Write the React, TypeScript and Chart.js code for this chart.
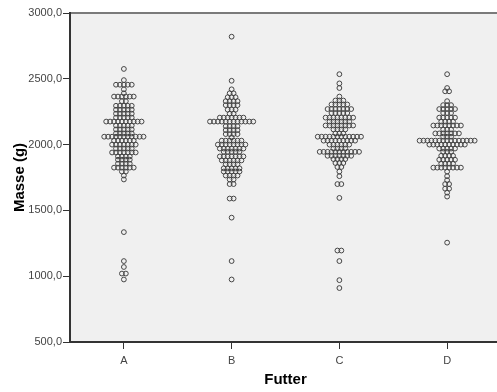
import React, { useEffect, useRef } from 'react';
import { Chart, registerables } from 'chart.js';

Chart.register(...registerables);

const categories = ['A', 'B', 'C', 'D'];
const yTickValues = [500, 1000, 1500, 2000, 2500, 3000];

// Dot-plot rows per category: bin mass (g) and number of dots in that row
const massA = [2575, 2490, 2455, 2420, 2390, 2365, 2330, 2295, 2265, 2235, 2205, 2175, 2145, 2115, 2085, 2060, 2030, 2000, 1970, 1940, 1910, 1885, 1855, 1825, 1795, 1765, 1735, 1335, 1115, 1070, 1020, 975];
const countA = [1, 1, 5, 1, 1, 6, 2, 5, 5, 5, 5, 10, 5, 5, 5, 11, 6, 7, 5, 7, 4, 4, 4, 6, 2, 1, 1, 1, 1, 1, 2, 1];

const massB = [2820, 2485, 2420, 2390, 2360, 2330, 2300, 2265, 2235, 2205, 2175, 2140, 2110, 2080, 2055, 2030, 2000, 1970, 1945, 1910, 1880, 1850, 1820, 1795, 1765, 1735, 1700, 1590, 1445, 1115, 975];
const countB = [1, 1, 1, 2, 3, 4, 4, 3, 2, 7, 12, 4, 4, 4, 1, 6, 8, 7, 5, 7, 6, 4, 5, 5, 4, 2, 2, 2, 1, 1, 1];

const massC = [2535, 2465, 2430, 2365, 2335, 2305, 2270, 2240, 2205, 2175, 2145, 2115, 2085, 2060, 2030, 2000, 1970, 1945, 1915, 1890, 1860, 1830, 1795, 1760, 1700, 1595, 1195, 1115, 970, 910];
const countC = [1, 1, 1, 1, 3, 5, 7, 5, 8, 6, 8, 4, 3, 12, 9, 6, 4, 11, 7, 4, 3, 2, 1, 1, 2, 1, 2, 1, 1, 1];

const massD = [2535, 2430, 2405, 2330, 2300, 2270, 2240, 2205, 2175, 2145, 2115, 2085, 2060, 2030, 2000, 1970, 1945, 1915, 1885, 1855, 1825, 1795, 1760, 1730, 1700, 1665, 1635, 1605, 1255];
const countD = [1, 1, 2, 1, 3, 5, 3, 5, 4, 8, 3, 7, 3, 15, 10, 5, 3, 4, 5, 4, 8, 1, 1, 1, 2, 2, 1, 1, 1];

const groups = [
  { masses: massA, counts: countA },
  { masses: massB, counts: countB },
  { masses: massC, counts: countC },
  { masses: massD, counts: countD },
];

function buildPoints(ci: number, masses: number[], counts: number[]) {
  const dx = 0.0365;
  const pts: { x: number; y: number }[] = [];
  masses.forEach((m, r) => {
    const n = counts[r];
    for (let i = 0; i < n; i++) pts.push({ x: ci + (i - (n - 1) / 2) * dx, y: m });
  });
  return pts;
}

const font = 'Liberation Sans, Arial, sans-serif';

const bgPlugin = {
  id: 'plotBg',
  beforeDraw(chart: any) {
    const { ctx, chartArea } = chart;
    if (!chartArea) return;
    ctx.save();
    ctx.fillStyle = '#f0f0f0';
    ctx.fillRect(chartArea.left, chartArea.top, chartArea.right - chartArea.left, chartArea.bottom - chartArea.top);
    ctx.strokeStyle = '#7a7a7a';
    ctx.lineWidth = 2;
    ctx.beginPath();
    ctx.moveTo(chartArea.left, chartArea.top);
    ctx.lineTo(chartArea.right, chartArea.top);
    ctx.stroke();
    ctx.restore();
  },
};

export default function App() {
  const ref = useRef<HTMLCanvasElement>(null);

  useEffect(() => {
    document.body.style.margin = '0';
    const canvas = ref.current;
    if (!canvas) return;
    const datasets = groups.map((g, i) => ({
      label: categories[i],
      data: buildPoints(i, g.masses, g.counts),
      pointRadius: 2.4,
      pointBorderWidth: 1,
      pointBorderColor: '#454545',
      pointBackgroundColor: 'rgba(0,0,0,0)',
      showLine: false,
    }));
    const chart = new Chart(canvas, {
      type: 'scatter',
      data: { datasets },
      plugins: [bgPlugin],
      options: {
        responsive: false,
        animation: false,
        layout: { padding: { top: 13, left: 0, right: 0, bottom: 0 } },
        plugins: { legend: { display: false }, tooltip: { enabled: false } },
        scales: {
          x: {
            type: 'linear',
            min: -0.5,
            max: 3.5,
            afterBuildTicks: (s: any) => {
              s.ticks = categories.map((_, i) => ({ value: i }));
            },
            afterFit: (s: any) => {
              s.height = 50;
            },
            grid: { display: true, drawOnChartArea: false, drawTicks: true, tickLength: 7, color: '#333', lineWidth: 1 },
            border: { display: true, color: '#333', width: 2 },
            ticks: {
              autoSkip: false,
              padding: 5,
              color: '#444',
              font: { family: font, size: 11 },
              callback: (v: any) => categories[Math.round(Number(v))] ?? '',
            },
            title: {
              display: true,
              text: 'Futter',
              color: '#000',
              font: { family: font, size: 15, weight: 'bold' },
              padding: { top: 0, bottom: 3 },
            },
          },
          y: {
            type: 'linear',
            min: 500,
            max: 3000,
            afterBuildTicks: (s: any) => {
              s.ticks = yTickValues.map((v) => ({ value: v }));
            },
            afterFit: (s: any) => {
              s.width = 70;
            },
            grid: { display: true, drawOnChartArea: false, drawTicks: true, tickLength: 7, color: '#333', lineWidth: 1 },
            border: { display: true, color: '#333', width: 2 },
            ticks: {
              autoSkip: false,
              padding: 1,
              color: '#444',
              font: { family: font, size: 11 },
              callback: (v: any) => Number(v).toFixed(1).replace('.', ','),
            },
            title: {
              display: true,
              text: 'Masse (g)',
              color: '#000',
              font: { family: font, size: 15, weight: 'bold' },
              padding: { top: 11, bottom: 0 },
            },
          },
        },
      } as any,
    });
    return () => chart.destroy();
  }, []);

  return (
    <div style={{ width: 497, height: 392, overflow: 'hidden', background: '#fff' }}>
      <canvas ref={ref} width={506} height={392} style={{ display: 'block' }} />
    </div>
  );
}
